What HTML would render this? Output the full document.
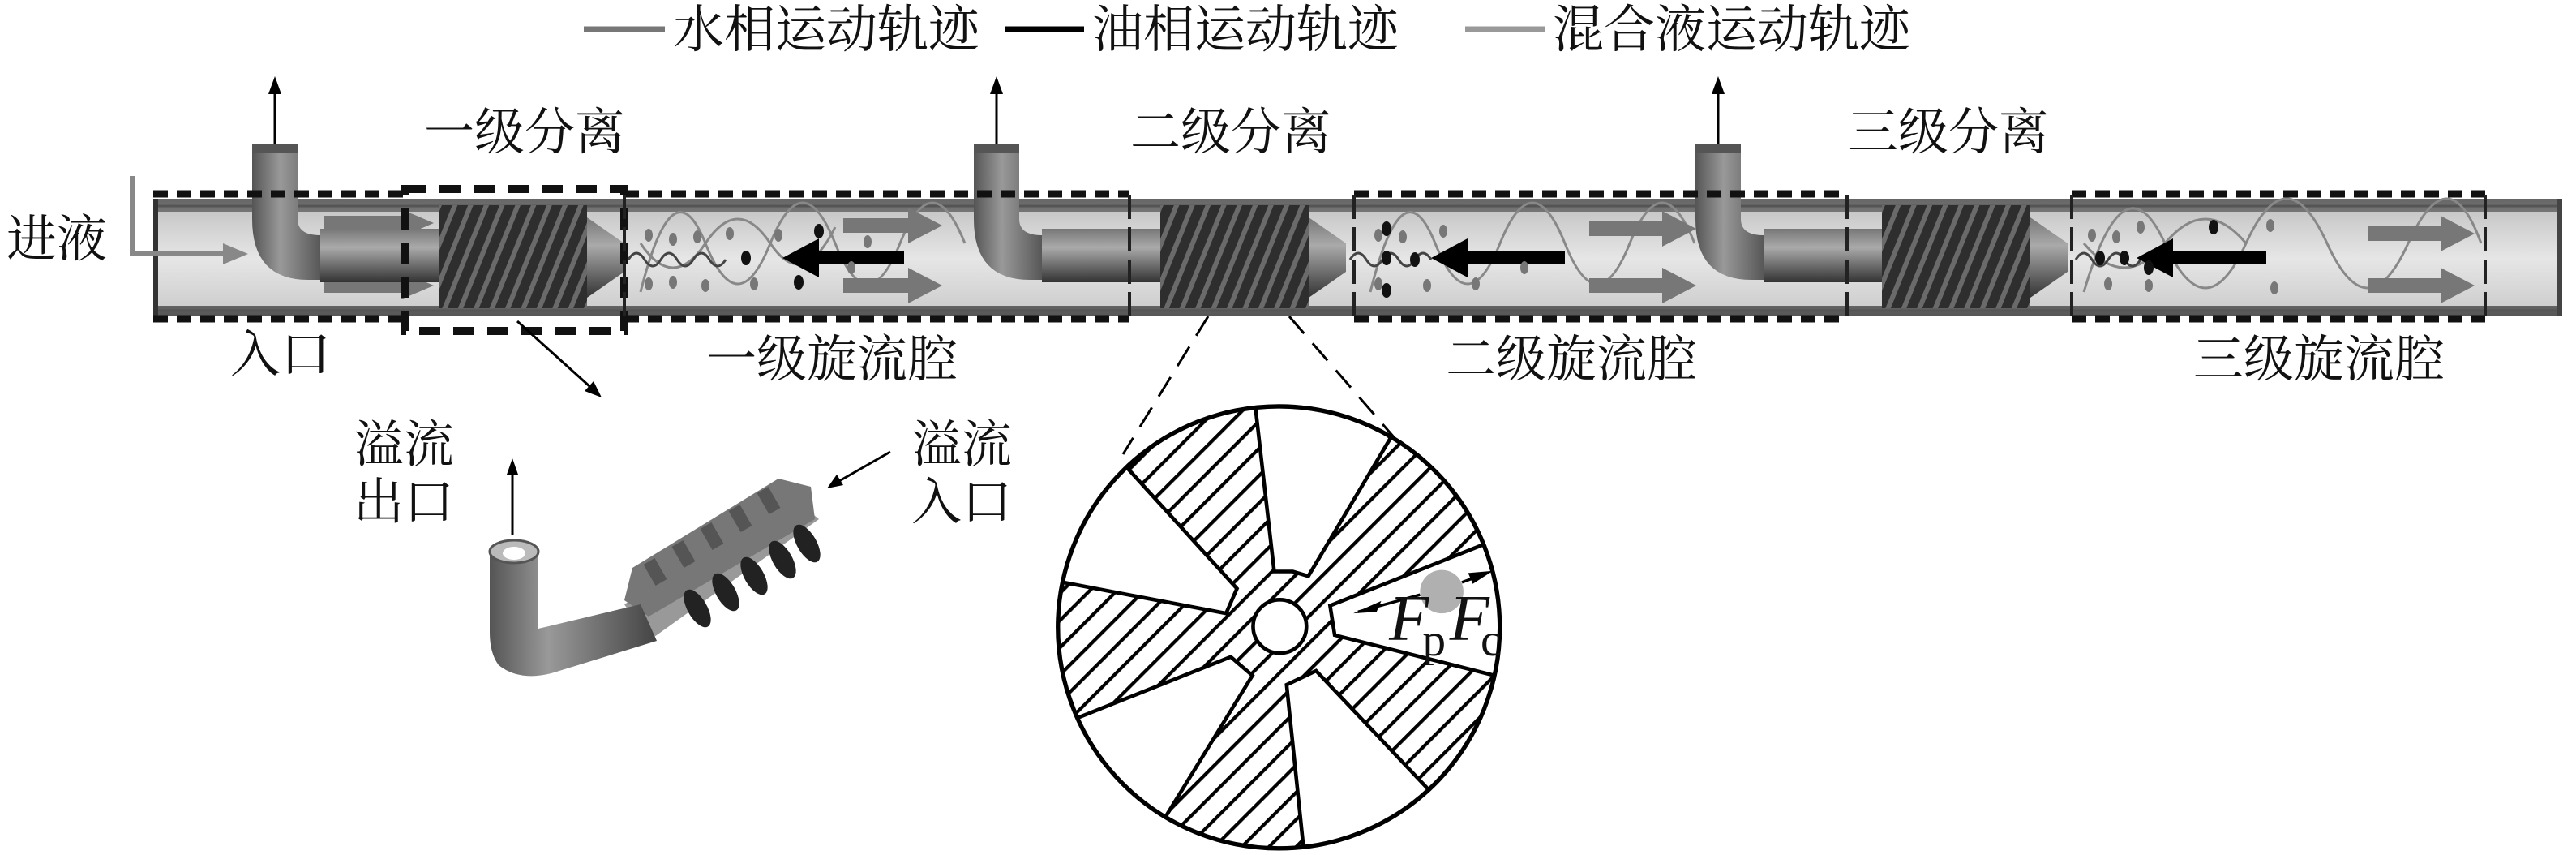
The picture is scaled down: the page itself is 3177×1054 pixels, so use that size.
<!DOCTYPE html>
<html><head><meta charset="utf-8"><style>
html,body{margin:0;padding:0;background:#fff;}
svg{display:block}
text{font-family:"Liberation Serif","Noto Serif CJK SC","Noto Sans CJK SC",serif;fill:#111}
</style></head><body>
<svg width="3177" height="1054" viewBox="0 0 3177 1054" xmlns="http://www.w3.org/2000/svg">
<defs>
<linearGradient id="inner" x1="0" y1="0" x2="0" y2="1">
<stop offset="0" stop-color="#c8c8c8"/><stop offset="0.5" stop-color="#e6e6e6"/><stop offset="1" stop-color="#cfcfcf"/></linearGradient>
<linearGradient id="wall" x1="0" y1="0" x2="0" y2="1">
<stop offset="0" stop-color="#666"/><stop offset="0.5" stop-color="#aaa"/><stop offset="1" stop-color="#555"/></linearGradient>
<linearGradient id="tubeV" x1="0" y1="0" x2="1" y2="0">
<stop offset="0" stop-color="#555"/><stop offset="0.35" stop-color="#999"/><stop offset="1" stop-color="#444"/></linearGradient>
<linearGradient id="tubeH" x1="0" y1="0" x2="0" y2="1">
<stop offset="0" stop-color="#777"/><stop offset="0.35" stop-color="#aaa"/><stop offset="1" stop-color="#333"/></linearGradient>
<pattern id="spir" width="18" height="18" patternUnits="userSpaceOnUse" patternTransform="rotate(22)">
<rect width="18" height="18" fill="#2e2e2e"/><rect width="6" height="18" fill="#6a6a6a"/></pattern>
<pattern id="hatch" width="62" height="62" patternUnits="userSpaceOnUse" patternTransform="rotate(-45)">
<rect width="62" height="62" fill="#fff"/><rect width="62" height="11" fill="#000"/></pattern>
<clipPath id="cc"><circle cx="855" cy="845" r="712"/></clipPath>
</defs>

<!-- Legend -->
<line x1="720" y1="36" x2="820" y2="36" stroke="#777" stroke-width="7"/>
<text x="830" y="58" font-size="63">水相运动轨迹</text>
<line x1="1240" y1="36" x2="1337" y2="36" stroke="#000" stroke-width="7"/>
<text x="1347" y="58" font-size="63">油相运动轨迹</text>
<line x1="1807" y1="36" x2="1905" y2="36" stroke="#999" stroke-width="7"/>
<text x="1915" y="58" font-size="63">混合液运动轨迹</text>

<!-- Pipe -->
<rect x="189" y="245" width="2971" height="145" fill="url(#wall)"/>
<rect x="189" y="261" width="2971" height="116" fill="url(#inner)"/>
<line x1="189" y1="254" x2="3160" y2="254" stroke="#555" stroke-width="3"/>
<line x1="189" y1="383" x2="3160" y2="383" stroke="#555" stroke-width="3"/>
<rect x="189" y="245" width="6" height="145" fill="#333"/>
<rect x="3154" y="245" width="6" height="145" fill="#444"/>

<!-- flow internals -->
<g stroke="#888" stroke-width="3" fill="none">
<path d="M790,360 Q830,200 870,300 T950,300 T1030,300 T1110,300 T1190,300"/>
<path d="M790,300 Q830,360 870,300 T950,300 T1030,280"/>
<path d="M1690,360 Q1730,200 1770,300 T1850,300 T1930,300 T2010,300 T2090,300"/>
<path d="M2570,360 Q2620,190 2670,300 T2770,300 T2870,300 T2970,300 T3060,300"/>
<path d="M2570,300 Q2620,360 2670,300 T2770,300"/>
</g>
<g stroke="#444" stroke-width="3" fill="none">
<path d="M775,320 q10,-16 20,0 t20,0 t20,0 t20,0 t20,0 t20,0"/>
<path d="M1665,320 q10,-16 20,0 t20,0 t20,0 t20,0 t20,0"/>
<path d="M2560,320 q10,-16 20,0 t20,0 t20,0 t20,0"/>
</g>
<!-- gray block arrows -->
<g stroke="#777" stroke-width="18">
<line x1="1040" y1="278" x2="1125" y2="278"/><line x1="1040" y1="352" x2="1125" y2="352"/>
<line x1="1960" y1="282" x2="2055" y2="282"/><line x1="1960" y1="352" x2="2055" y2="352"/>
<line x1="2920" y1="288" x2="3015" y2="288"/><line x1="2920" y1="352" x2="3015" y2="352"/>
<line x1="400" y1="275" x2="500" y2="275"/><line x1="400" y1="352" x2="500" y2="352"/>
</g>
<g fill="#777">
<path d="M1120,256 L1162,278 L1120,300z"/><path d="M1120,330 L1162,352 L1120,374z"/>
<path d="M2050,260 L2092,282 L2050,304z"/><path d="M2050,330 L2092,352 L2050,374z"/>
<path d="M3010,266 L3052,288 L3010,310z"/><path d="M3010,330 L3052,352 L3010,374z"/>
<path d="M495,258 L535,275 L495,292z"/><path d="M495,335 L535,352 L495,369z"/>
</g>
<!-- black arrows -->
<g stroke="#000" stroke-width="16">
<line x1="1115" y1="318" x2="1005" y2="318"/>
<line x1="1930" y1="318" x2="1805" y2="318"/>
<line x1="2795" y1="318" x2="2675" y2="318"/>
</g>
<g fill="#000">
<path d="M1010,294 L965,318 L1010,342z"/>
<path d="M1810,294 L1765,318 L1810,342z"/>
<path d="M2680,294 L2635,318 L2680,342z"/>
</g>
<!-- dots -->
<g fill="#777">
<ellipse cx="800" cy="290" rx="5" ry="8"/><ellipse cx="830" cy="295" rx="5" ry="8"/><ellipse cx="860" cy="292" rx="5" ry="8"/><ellipse cx="900" cy="288" rx="5" ry="8"/><ellipse cx="960" cy="290" rx="5" ry="8"/>
<ellipse cx="800" cy="350" rx="5" ry="8"/><ellipse cx="830" cy="348" rx="5" ry="8"/><ellipse cx="870" cy="352" rx="5" ry="8"/><ellipse cx="930" cy="350" rx="5" ry="8"/><ellipse cx="1050" cy="330" rx="5" ry="8"/><ellipse cx="1070" cy="298" rx="5" ry="8"/>
<ellipse cx="1700" cy="290" rx="5" ry="8"/><ellipse cx="1730" cy="292" rx="5" ry="8"/><ellipse cx="1780" cy="285" rx="5" ry="8"/><ellipse cx="1700" cy="350" rx="5" ry="8"/><ellipse cx="1760" cy="352" rx="5" ry="8"/><ellipse cx="1820" cy="350" rx="5" ry="8"/><ellipse cx="1880" cy="330" rx="5" ry="8"/>
<ellipse cx="2580" cy="290" rx="5" ry="8"/><ellipse cx="2610" cy="292" rx="5" ry="8"/><ellipse cx="2640" cy="280" rx="5" ry="8"/><ellipse cx="2600" cy="350" rx="5" ry="8"/><ellipse cx="2650" cy="352" rx="5" ry="8"/><ellipse cx="2800" cy="278" rx="5" ry="8"/><ellipse cx="2805" cy="355" rx="5" ry="8"/>
</g>
<g fill="#111">
<ellipse cx="920" cy="318" rx="6" ry="9"/><ellipse cx="985" cy="348" rx="6" ry="9"/><ellipse cx="1010" cy="285" rx="6" ry="9"/>
<ellipse cx="1710" cy="318" rx="6" ry="9"/><ellipse cx="1745" cy="320" rx="6" ry="9"/><ellipse cx="1710" cy="282" rx="6" ry="9"/><ellipse cx="1710" cy="358" rx="6" ry="9"/>
<ellipse cx="2590" cy="318" rx="6" ry="9"/><ellipse cx="2620" cy="318" rx="6" ry="9"/><ellipse cx="2650" cy="330" rx="6" ry="9"/><ellipse cx="2730" cy="280" rx="6" ry="9"/>
</g>

<!-- separators -->
<g id="sep1">
<path d="M311,178 L367,178 L367,270 Q367,290 395,290 L410,290 L410,345 L380,345 Q311,345 311,270Z" fill="url(#tubeV)"/>
<rect x="311" y="178" width="56" height="10" fill="#555"/>
<rect x="395" y="282" width="146" height="66" fill="url(#tubeH)"/>
<rect x="541" y="253" width="183" height="127" fill="url(#spir)"/>
<path d="M724,268 L770,300 L770,335 L724,367Z" fill="url(#tubeH)"/>
</g>
<use href="#sep1" x="890"/>
<use href="#sep1" x="1780"/>

<!-- dashed boxes -->
<g fill="none" stroke="#111" stroke-width="9" stroke-dasharray="18,11">
<line x1="189" y1="239" x2="500" y2="239"/><line x1="189" y1="393" x2="500" y2="393"/>
<line x1="770" y1="239" x2="1393" y2="239"/><line x1="770" y1="393" x2="1393" y2="393"/>
<line x1="1670" y1="239" x2="2278" y2="239"/><line x1="1670" y1="393" x2="2278" y2="393"/>
<line x1="2555" y1="239" x2="3065" y2="239"/><line x1="2555" y1="393" x2="3065" y2="393"/>
</g>
<rect x="500" y="233" width="270" height="175" fill="none" stroke="#111" stroke-width="10" stroke-dasharray="26,16"/>
<g stroke="#222" stroke-width="4" stroke-dasharray="30,10">
<line x1="770" y1="240" x2="770" y2="395"/><line x1="1393" y1="240" x2="1393" y2="395"/>
<line x1="1670" y1="240" x2="1670" y2="395"/><line x1="2278" y1="240" x2="2278" y2="395"/>
<line x1="2555" y1="240" x2="2555" y2="395"/><line x1="3065" y1="240" x2="3065" y2="395"/>
</g>

<!-- arrows -->
<g stroke="#000" stroke-width="3">
<line x1="339" y1="178" x2="339" y2="110"/>
<line x1="1229" y1="178" x2="1229" y2="110"/>
<line x1="2119" y1="178" x2="2119" y2="110"/>
<line x1="638" y1="396" x2="728" y2="477"/>
<line x1="632" y1="660" x2="632" y2="580"/>
<line x1="1098" y1="557" x2="1035" y2="593"/>
</g>
<g fill="#000">
<path d="M339,94 L331,116 L347,116z"/>
<path d="M1229,94 L1221,116 L1237,116z"/>
<path d="M2119,94 L2111,116 L2127,116z"/>
<path d="M742,490 L721,482 L732,470z"/>
<path d="M632,565 L625,585 L639,585z"/>
<path d="M1020,602 L1032,585 L1040,598z"/>
</g>
<!-- inlet -->
<path d="M163,217 L163,313 L280,313" stroke="#888" stroke-width="6" fill="none"/>
<path d="M275,300 L306,313 L275,326z" fill="#888"/>

<!-- labels -->
<g font-size="62">
<text x="8" y="316">进液</text>
<text x="284" y="458">入口</text>
<text x="523" y="184">一级分离</text>
<text x="1394" y="184">二级分离</text>
<text x="2279" y="184">三级分离</text>
<text x="871" y="464">一级旋流腔</text>
<text x="1783" y="464">二级旋流腔</text>
<text x="2705" y="464">三级旋流腔</text>
<text x="436" y="569">溢流</text>
<text x="436" y="640">出口</text>
<text x="1124" y="569">溢流</text>
<text x="1124" y="640">入口</text>
</g>

<!-- 3D overflow part -->
<g>
<path d="M770,745 L980,615 L1010,640 L800,790Z" fill="#999"/>
<path d="M780,700 L960,590 L1000,600 L1005,640 L800,760 L770,740Z" fill="#777"/>
<g fill="#555">
<rect x="800" y="690" width="16" height="30" transform="rotate(-30 808 705)"/>
<rect x="835" y="668" width="16" height="30" transform="rotate(-30 843 683)"/>
<rect x="870" y="646" width="16" height="30" transform="rotate(-30 878 661)"/>
<rect x="905" y="624" width="16" height="30" transform="rotate(-30 913 639)"/>
<rect x="940" y="602" width="16" height="30" transform="rotate(-30 948 617)"/>
</g>
<g fill="#222">
<ellipse cx="860" cy="750" rx="12" ry="26" transform="rotate(-30 860 750)"/>
<ellipse cx="895" cy="730" rx="12" ry="26" transform="rotate(-30 895 730)"/>
<ellipse cx="930" cy="710" rx="12" ry="26" transform="rotate(-30 930 710)"/>
<ellipse cx="965" cy="690" rx="12" ry="26" transform="rotate(-30 965 690)"/>
<ellipse cx="995" cy="670" rx="12" ry="26" transform="rotate(-30 995 670)"/>
</g>
<path d="M604,680 L664,680 L664,775 L790,745 L810,790 L680,830 Q640,840 615,820 Q604,805 604,780Z" fill="url(#tubeV)"/>
<ellipse cx="634" cy="680" rx="30" ry="14" fill="#bbb" stroke="#555" stroke-width="3"/>
<ellipse cx="634" cy="682" rx="14" ry="8" fill="#fff"/>
</g>

<!-- dashed projection lines -->
<g stroke="#000" stroke-width="3" stroke-dasharray="28,16">
<line x1="1490" y1="390" x2="1385" y2="560"/>
<line x1="1590" y1="390" x2="1720" y2="540"/>
</g>

<!-- cross-section -->
<g transform="translate(1250,450) scale(0.3827)">
<circle cx="855" cy="845" r="712" fill="url(#hatch)"/>
<g clip-path="url(#cc)" fill="#fff" stroke="#000" stroke-width="12">
<polygon points="780,140 840,665 900,665 950,680 1215,235 1100,120 780,100"/>
<polygon points="365,330 720,720 685,800 160,700 100,500 250,330"/>
<polygon points="210,1135 700,940 770,1000 490,1455 300,1500 150,1200"/>
<polygon points="880,1030 935,1560 935,1620 1400,1450 1340,1370 975,985"/>
<polygon points="1020,775 1510,580 1620,580 1620,1005 1550,1000 1035,870"/>
</g>
<circle cx="855" cy="845" r="712" fill="none" stroke="#000" stroke-width="14"/>
<circle cx="858" cy="842" r="86" fill="#fff" stroke="#000" stroke-width="12"/>
<circle cx="1380" cy="730" r="70" fill="#b0b0b0"/>
<g stroke="#000" stroke-width="9">
<line x1="1310" y1="740" x2="1110" y2="795"/>
<line x1="1445" y1="700" x2="1520" y2="672"/>
</g>
<path d="M1095,800 L1185,760 L1170,795z" fill="#000"/>
<path d="M1545,663 L1465,670 L1480,705z" fill="#000"/>
<text x="1210" y="885" font-size="210" font-style="italic">F</text>
<text x="1318" y="935" font-size="150">p</text>
<text x="1405" y="885" font-size="210" font-style="italic">F</text>
<text x="1505" y="935" font-size="150">c</text>
</g>
</svg>
</body></html>
